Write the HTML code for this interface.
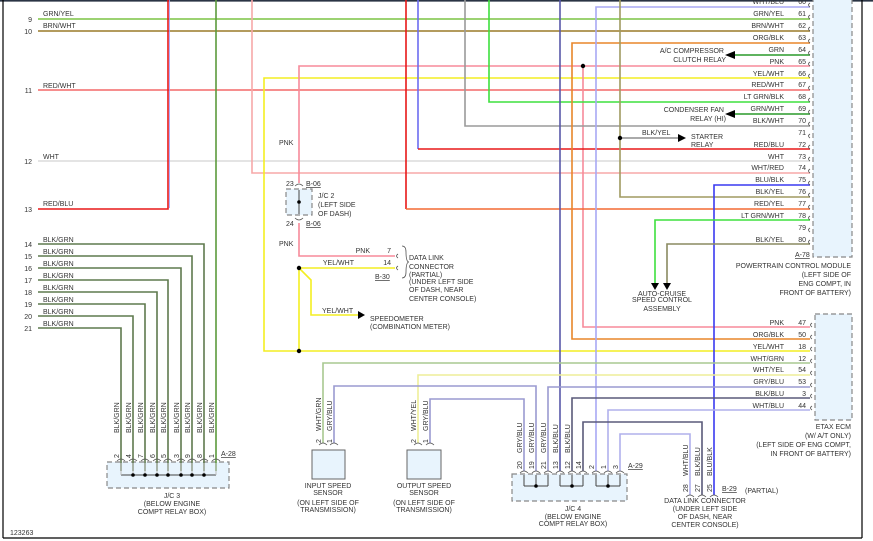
<!DOCTYPE html>
<html><head><meta charset="utf-8"><style>
html,body{margin:0;padding:0;background:#fff;}
svg{display:block;}
text{font-family:"Liberation Sans",sans-serif;font-size:7px;fill:#333;}
.r{text-anchor:end;}
.m{text-anchor:middle;}
</style></head><body>
<svg width="873" height="541" viewBox="0 0 873 541" xmlns="http://www.w3.org/2000/svg">
<rect x="0" y="0" width="873" height="541" fill="#fff"/>
<line x1="0" y1="0.8" x2="873" y2="0.8" stroke="#2a3444" stroke-width="1.6"/>
<line x1="3" y1="0" x2="3" y2="538" stroke="#000" stroke-width="1.2"/>
<line x1="3" y1="538" x2="862" y2="538" stroke="#000" stroke-width="1.2"/>
<line x1="862" y1="0" x2="862" y2="538" stroke="#000" stroke-width="1.2"/>

<rect x="813" y="-2" width="39" height="259" fill="#e8f4fd" stroke="#888" stroke-width="1.2" stroke-dasharray="5,3"/>
<rect x="815" y="314" width="37" height="106" fill="#e8f4fd" stroke="#888" stroke-width="1.2" stroke-dasharray="5,3"/>
<rect x="107" y="462" width="122" height="26" fill="#e8f4fd" stroke="#888" stroke-width="1.2" stroke-dasharray="5,3"/>
<rect x="512" y="474" width="115" height="27" fill="#e8f4fd" stroke="#888" stroke-width="1.2" stroke-dasharray="5,3"/>
<rect x="286" y="189" width="26" height="26" fill="#e8f4fd" stroke="#888" stroke-width="1.2" stroke-dasharray="5,3"/>
<rect x="312" y="450" width="33" height="29" fill="#e8f4fd" stroke="#666" stroke-width="1"/>
<rect x="407" y="450" width="34" height="29" fill="#e8f4fd" stroke="#666" stroke-width="1"/>

<g fill="none" stroke-width="1.6">
<line x1="38" y1="19" x2="810" y2="19" stroke="#7cc444"/>
<line x1="38" y1="31" x2="810" y2="31" stroke="#9a7a28"/>
<line x1="38" y1="90" x2="810" y2="90" stroke="#f46868"/>
<line x1="38" y1="161" x2="810" y2="161" stroke="#dcdcdc"/>
<polyline points="38,209 168,209 168,0" stroke="#e81818"/>
<line x1="169.5" y1="0" x2="169.5" y2="208" stroke="#99f" stroke-width="0.8"/>
<line x1="216" y1="0" x2="216" y2="471" stroke="#5c9a3c"/>
<polyline points="38,244 204,244 204,471" stroke="#5f7a4e"/>
<polyline points="38,256 192,256 192,471" stroke="#5f7a4e"/>
<polyline points="38,268 181,268 181,471" stroke="#5f7a4e"/>
<polyline points="38,280 168,280 168,471" stroke="#5f7a4e"/>
<polyline points="38,292 157,292 157,471" stroke="#5f7a4e"/>
<polyline points="38,304 145,304 145,471" stroke="#5f7a4e"/>
<polyline points="38,316 133,316 133,471" stroke="#5f7a4e"/>
<polyline points="38,328 121,328 121,471" stroke="#5f7a4e"/>
<polyline points="252,0 252,173 810,173" stroke="#f7a8a8"/>
<polyline points="810,78 264,78 264,351 810,351" stroke="#f4ee22"/>
<polyline points="810,66 299,66 299,183" stroke="#f78a9a"/>
<polyline points="299,223 299,256 395,256" stroke="#f78a9a"/>
<polyline points="583,66 583,327 810,327" stroke="#f78a9a"/>
<line x1="299" y1="268" x2="395" y2="268" stroke="#f4ee22"/>
<line x1="299" y1="268" x2="299" y2="351" stroke="#f4ee22"/>
<polyline points="299,268 311,280 311,315 358,315" stroke="#f4ee22"/>
<line x1="406" y1="0" x2="406" y2="209" stroke="#e81818"/>
<line x1="406" y1="209" x2="810" y2="209" stroke="#f46a34"/>
<line x1="418" y1="0" x2="418" y2="149" stroke="#6c6cf0"/>
<line x1="418" y1="149" x2="810" y2="149" stroke="#e81818"/>
<polyline points="465,0 465,126 810,126" stroke="#9a9a9a"/>
<polyline points="489,0 489,102 810,102" stroke="#3ee03e"/>
<line x1="560" y1="0" x2="560" y2="471" stroke="#5858a8"/>
<polyline points="810,43 572,43 572,339 810,339" stroke="#e8862a"/>
<polyline points="810,7 596,7 596,471" stroke="#a8a8f4"/>
<polyline points="620,0 620,197 810,197" stroke="#a09a60"/>
<line x1="620" y1="138" x2="678" y2="138" stroke="#555" stroke-width="1"/>
<line x1="735" y1="55" x2="810" y2="55" stroke="#2a9a2a"/>
<line x1="735" y1="114" x2="810" y2="114" stroke="#2a9a2a"/>
<polyline points="810,185 714,185 714,495" stroke="#3a3af0"/>
<polyline points="810,220 655,220 655,283" stroke="#3ee03e"/>
<polyline points="810,244 667,244 667,283" stroke="#8a8a60"/>
<polyline points="810,363 323,363 323,443" stroke="#a8c890"/>
<polyline points="810,375 418,375 418,443" stroke="#eeee99"/>
<polyline points="810,387 548,387 548,471" stroke="#9a9ad0"/>
<polyline points="536,471 536,386 334,386 334,443" stroke="#9a9ad0"/>
<polyline points="524,471 524,399 430,399 430,443" stroke="#9a9ad0"/>
<polyline points="810,398 572,398 572,471" stroke="#5a5a7a"/>
<polyline points="810,410 608,410 608,471" stroke="#b0b0ec"/>
<polyline points="583,471 583,422 702,422 702,495" stroke="#5a5a7a"/>
<polyline points="620,471 620,434 690,434 690,495" stroke="#b0b0ec"/>
</g>

<g stroke="#444" stroke-width="1" fill="none">
<line x1="121" y1="475" x2="216" y2="475"/>
<line x1="524" y1="486" x2="548" y2="486"/><line x1="524" y1="475" x2="524" y2="486"/><line x1="536" y1="475" x2="536" y2="486"/><line x1="548" y1="475" x2="548" y2="486"/>
<line x1="560" y1="486" x2="583" y2="486"/><line x1="560" y1="475" x2="560" y2="486"/><line x1="572" y1="475" x2="572" y2="486"/><line x1="583" y1="475" x2="583" y2="486"/>
<line x1="596" y1="486" x2="620" y2="486"/><line x1="596" y1="475" x2="596" y2="486"/><line x1="608" y1="475" x2="608" y2="486"/><line x1="620" y1="475" x2="620" y2="486"/>
<line x1="299" y1="190" x2="299" y2="214"/>
</g>
<g stroke="#bbb" stroke-width="1">
<line x1="121" y1="463" x2="121" y2="475"/><line x1="133" y1="463" x2="133" y2="475"/><line x1="145" y1="463" x2="145" y2="475"/><line x1="157" y1="463" x2="157" y2="475"/><line x1="168" y1="463" x2="168" y2="475"/><line x1="181" y1="463" x2="181" y2="475"/><line x1="192" y1="463" x2="192" y2="475"/><line x1="204" y1="463" x2="204" y2="475"/><line x1="216" y1="463" x2="216" y2="475"/>
</g>
<g fill="#000">
<circle cx="133" cy="475" r="1.8"/><circle cx="145" cy="475" r="1.8"/><circle cx="157" cy="475" r="1.8"/><circle cx="168" cy="475" r="1.8"/><circle cx="181" cy="475" r="1.8"/><circle cx="192" cy="475" r="1.8"/><circle cx="204" cy="475" r="1.8"/>
<circle cx="536" cy="486" r="1.8"/><circle cx="572" cy="486" r="1.8"/><circle cx="608" cy="486" r="1.8"/>
<circle cx="299" cy="202" r="1.8"/>
<circle cx="583" cy="66" r="2.2"/><circle cx="620" cy="138" r="2.2"/>
<circle cx="299" cy="268" r="2.2"/><circle cx="299" cy="351" r="2.2"/>
<polygon points="725,55 735,51 735,59"/>
<polygon points="725,114 735,110 735,118"/>
<polygon points="686,138 678,134 678,142"/>
<polygon points="365,315 358,311 358,319"/>
<polygon points="655,290 651,283 659,283"/>
<polygon points="667,290 663,283 671,283"/>
</g>

<g fill="none" stroke="#555" stroke-width="0.8">
<path d="M810,3 q-3,2 0,4 M810,15 q-3,2 0,4 M810,27 q-3,2 0,4 M810,39 q-3,2 0,4 M810,51 q-3,2 0,4 M810,62 q-3,2 0,4 M810,74 q-3,2 0,4 M810,86 q-3,2 0,4 M810,98 q-3,2 0,4 M810,110 q-3,2 0,4 M810,122 q-3,2 0,4 M810,134 q-3,2 0,4 M810,145 q-3,2 0,4 M810,157 q-3,2 0,4 M810,169 q-3,2 0,4 M810,181 q-3,2 0,4 M810,193 q-3,2 0,4 M810,205 q-3,2 0,4 M810,216 q-3,2 0,4 M810,228 q-3,2 0,4 M810,240 q-3,2 0,4"/>
<path d="M812,323 q-3,2 0,4 M812,335 q-3,2 0,4 M812,347 q-3,2 0,4 M812,359 q-3,2 0,4 M812,371 q-3,2 0,4 M812,383 q-3,2 0,4 M812,394 q-3,2 0,4 M812,406 q-3,2 0,4"/>
<path d="M117,461 q4,-4 8,0 M129,461 q4,-4 8,0 M141,461 q4,-4 8,0 M153,461 q4,-4 8,0 M164,461 q4,-4 8,0 M177,461 q4,-4 8,0 M188,461 q4,-4 8,0 M200,461 q4,-4 8,0 M212,461 q4,-4 8,0"/>
<path d="M520,473 q4,-4 8,0 M532,473 q4,-4 8,0 M544,473 q4,-4 8,0 M556,473 q4,-4 8,0 M568,473 q4,-4 8,0 M579,473 q4,-4 8,0 M592,473 q4,-4 8,0 M604,473 q4,-4 8,0 M616,473 q4,-4 8,0"/>
<path d="M319,445 q4,-4 8,0 M330,445 q4,-4 8,0 M414,445 q4,-4 8,0 M426,445 q4,-4 8,0"/>
<path d="M686,497 q4,-4 8,0 M698,497 q4,-4 8,0 M710,497 q4,-4 8,0"/>
<path d="M295,186 q4,-4 8,0 M295,218 q4,4 8,0"/>
<path d="M398,254 q-3,2 0,4 M398,266 q-3,2 0,4 M402,246 q4,0 4,6 q0,10 3,10 q-3,0 -3,10 q0,6 -4,6"/>
</g>

<g class="r">
<text x="784" y="4">WHT/BLU</text><text x="806" y="4">60</text>
<text x="784" y="16">GRN/YEL</text><text x="806" y="16">61</text>
<text x="784" y="28">BRN/WHT</text><text x="806" y="28">62</text>
<text x="784" y="40">ORG/BLK</text><text x="806" y="40">63</text>
<text x="784" y="52">GRN</text><text x="806" y="52">64</text>
<text x="784" y="64">PNK</text><text x="806" y="64">65</text>
<text x="784" y="76">YEL/WHT</text><text x="806" y="76">66</text>
<text x="784" y="87">RED/WHT</text><text x="806" y="87">67</text>
<text x="784" y="99">LT GRN/BLK</text><text x="806" y="99">68</text>
<text x="784" y="111">GRN/WHT</text><text x="806" y="111">69</text>
<text x="784" y="123">BLK/WHT</text><text x="806" y="123">70</text>
<text x="806" y="135">71</text>
<text x="784" y="147">RED/BLU</text><text x="806" y="147">72</text>
<text x="784" y="159">WHT</text><text x="806" y="159">73</text>
<text x="784" y="170">WHT/RED</text><text x="806" y="170">74</text>
<text x="784" y="182">BLU/BLK</text><text x="806" y="182">75</text>
<text x="784" y="194">BLK/YEL</text><text x="806" y="194">76</text>
<text x="784" y="206">RED/YEL</text><text x="806" y="206">77</text>
<text x="784" y="218">LT GRN/WHT</text><text x="806" y="218">78</text>
<text x="806" y="230">79</text>
<text x="784" y="242">BLK/YEL</text><text x="806" y="242">80</text>
<text x="724" y="53">A/C COMPRESSOR</text><text x="726" y="62">CLUTCH RELAY</text>
<text x="724" y="112">CONDENSER FAN</text><text x="726" y="121">RELAY (HI)</text>
<text x="851" y="268">POWERTRAIN CONTROL MODULE</text>
<text x="851" y="277">(LEFT SIDE OF</text><text x="851" y="286">ENG COMPT, IN</text><text x="851" y="295">FRONT OF BATTERY)</text>
<text x="784" y="325">PNK</text><text x="806" y="325">47</text>
<text x="784" y="337">ORG/BLK</text><text x="806" y="337">50</text>
<text x="784" y="349">YEL/WHT</text><text x="806" y="349">18</text>
<text x="784" y="361">WHT/GRN</text><text x="806" y="361">12</text>
<text x="784" y="372">WHT/YEL</text><text x="806" y="372">54</text>
<text x="784" y="384">GRY/BLU</text><text x="806" y="384">53</text>
<text x="784" y="396">BLK/BLU</text><text x="806" y="396">3</text>
<text x="784" y="408">WHT/BLU</text><text x="806" y="408">44</text>
<text x="851" y="429">ETAX ECM</text><text x="851" y="438">(W/ A/T ONLY)</text>
<text x="851" y="447">(LEFT SIDE OF ENG COMPT,</text><text x="851" y="456">IN FRONT OF BATTERY)</text>
<text x="32" y="22">9</text><text x="32" y="34">10</text><text x="32" y="93">11</text><text x="32" y="164">12</text><text x="32" y="212">13</text>
<text x="32" y="247">14</text><text x="32" y="259">15</text><text x="32" y="271">16</text><text x="32" y="283">17</text><text x="32" y="295">18</text><text x="32" y="307">19</text><text x="32" y="319">20</text><text x="32" y="331">21</text>
<text x="370" y="253">PNK</text><text x="391" y="253">7</text>
<text x="354" y="265">YEL/WHT</text><text x="391" y="265">14</text>
</g>
<text x="795" y="257" style="text-decoration:underline">A-78</text>
<text x="642" y="135">BLK/YEL</text>
<text x="691" y="139">STARTER</text><text x="691" y="147">RELAY</text>
<g class="m"><text x="662" y="296">AUTO-CRUISE</text><text x="662" y="302">SPEED CONTROL</text><text x="662" y="311">ASSEMBLY</text></g>
<g>
<text x="43" y="16">GRN/YEL</text><text x="43" y="28">BRN/WHT</text><text x="43" y="88">RED/WHT</text><text x="43" y="159">WHT</text><text x="43" y="206">RED/BLU</text>
<text x="43" y="242">BLK/GRN</text><text x="43" y="254">BLK/GRN</text><text x="43" y="266">BLK/GRN</text><text x="43" y="278">BLK/GRN</text><text x="43" y="290">BLK/GRN</text><text x="43" y="302">BLK/GRN</text><text x="43" y="314">BLK/GRN</text><text x="43" y="326">BLK/GRN</text>
<text x="279" y="145">PNK</text><text x="279" y="246">PNK</text>
<text x="286" y="186">23</text><text x="306" y="186" style="text-decoration:underline">B-06</text>
<text x="286" y="226">24</text><text x="306" y="226" style="text-decoration:underline">B-06</text>
<text x="318" y="198">J/C 2</text><text x="318" y="207">(LEFT SIDE</text><text x="318" y="216">OF DASH)</text>
<text x="375" y="279" style="text-decoration:underline">B-30</text>
<text x="409" y="260">DATA LINK</text><text x="409" y="269">CONNECTOR</text><text x="409" y="277">(PARTIAL)</text><text x="409" y="284">(UNDER LEFT SIDE</text><text x="409" y="292">OF DASH, NEAR</text><text x="409" y="301">CENTER CONSOLE)</text>
<text x="322" y="313">YEL/WHT</text>
<text x="370" y="321">SPEEDOMETER</text><text x="370" y="329">(COMBINATION METER)</text>
<text x="221" y="456" style="text-decoration:underline">A-28</text>
<text x="628" y="468" style="text-decoration:underline">A-29</text>
<text x="722" y="491" style="text-decoration:underline">B-29</text><text x="745" y="493">(PARTIAL)</text>
<text x="10" y="535">123263</text>
</g>
<g class="m">
<text x="172" y="498">J/C 3</text><text x="172" y="506">(BELOW ENGINE</text><text x="172" y="514">COMPT RELAY BOX)</text>
<text x="573" y="511">J/C 4</text><text x="573" y="519">(BELOW ENGINE</text><text x="573" y="526">COMPT RELAY BOX)</text>
<text x="328" y="488">INPUT SPEED</text><text x="328" y="495">SENSOR</text><text x="328" y="505">(ON LEFT SIDE OF</text><text x="328" y="512">TRANSMISSION)</text>
<text x="424" y="488">OUTPUT SPEED</text><text x="424" y="495">SENSOR</text><text x="424" y="505">(ON LEFT SIDE OF</text><text x="424" y="512">TRANSMISSION)</text>
<text x="705" y="503">DATA LINK CONNECTOR</text><text x="705" y="511">(UNDER LEFT SIDE</text><text x="705" y="519">OF DASH, NEAR</text><text x="705" y="527">CENTER CONSOLE)</text>
</g>
<g>
<text transform="translate(119,433) rotate(-90)">BLK/GRN</text><text transform="translate(131,433) rotate(-90)">BLK/GRN</text><text transform="translate(143,433) rotate(-90)">BLK/GRN</text><text transform="translate(155,433) rotate(-90)">BLK/GRN</text><text transform="translate(166,433) rotate(-90)">BLK/GRN</text><text transform="translate(179,433) rotate(-90)">BLK/GRN</text><text transform="translate(190,433) rotate(-90)">BLK/GRN</text><text transform="translate(202,433) rotate(-90)">BLK/GRN</text><text transform="translate(214,433) rotate(-90)">BLK/GRN</text>
<text transform="translate(119,458) rotate(-90)">2</text><text transform="translate(131,458) rotate(-90)">4</text><text transform="translate(143,458) rotate(-90)">7</text><text transform="translate(155,458) rotate(-90)">6</text><text transform="translate(166,458) rotate(-90)">5</text><text transform="translate(179,458) rotate(-90)">3</text><text transform="translate(190,458) rotate(-90)">9</text><text transform="translate(202,458) rotate(-90)">8</text><text transform="translate(214,458) rotate(-90)">1</text>
<text transform="translate(522,453) rotate(-90)">GRY/BLU</text><text transform="translate(534,453) rotate(-90)">GRY/BLU</text><text transform="translate(546,453) rotate(-90)">GRY/BLU</text><text transform="translate(558,453) rotate(-90)">BLK/BLU</text><text transform="translate(570,453) rotate(-90)">BLK/BLU</text>
<text transform="translate(522,469) rotate(-90)">20</text><text transform="translate(534,469) rotate(-90)">19</text><text transform="translate(546,469) rotate(-90)">21</text><text transform="translate(558,469) rotate(-90)">13</text><text transform="translate(570,469) rotate(-90)">12</text><text transform="translate(581,469) rotate(-90)">14</text><text transform="translate(594,469) rotate(-90)">2</text><text transform="translate(606,469) rotate(-90)">1</text><text transform="translate(618,469) rotate(-90)">3</text>
<text transform="translate(321,431) rotate(-90)">WHT/GRN</text><text transform="translate(332,431) rotate(-90)">GRY/BLU</text>
<text transform="translate(321,443) rotate(-90)">2</text><text transform="translate(332,443) rotate(-90)">1</text>
<text transform="translate(416,431) rotate(-90)">WHT/YEL</text><text transform="translate(428,431) rotate(-90)">GRY/BLU</text>
<text transform="translate(416,443) rotate(-90)">2</text><text transform="translate(428,443) rotate(-90)">1</text>
<text transform="translate(688,476) rotate(-90)">WHT/BLU</text><text transform="translate(700,476) rotate(-90)">BLK/BLU</text><text transform="translate(712,476) rotate(-90)">BLU/BLK</text>
<text transform="translate(688,492) rotate(-90)">28</text><text transform="translate(700,492) rotate(-90)">27</text><text transform="translate(712,492) rotate(-90)">25</text>
</g>
</svg>
</body></html>
